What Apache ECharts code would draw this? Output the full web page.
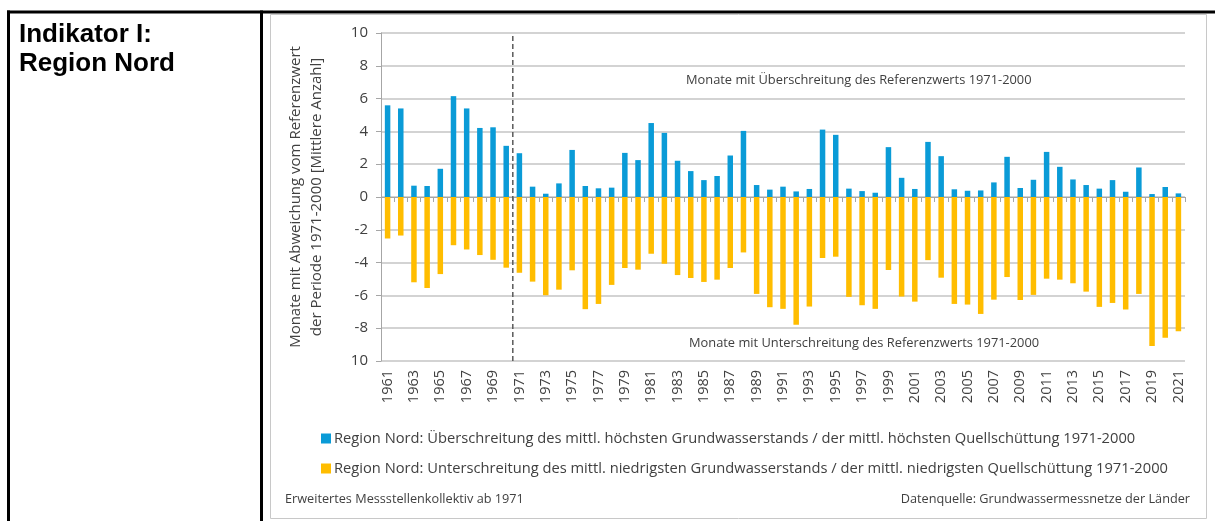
<!DOCTYPE html>
<html><head><meta charset="utf-8">
<script src="https://cdn.jsdelivr.net/npm/echarts@6/dist/echarts.min.js"></script>
<style>html,body{margin:0;padding:0;background:#fff}#c{width:1215px;height:521px}</style>
</head><body><div id="c"></div>
<script>
const years = [];
for (let y = 1961; y <= 2021; y++) years.push(String(y));
const exceed = [5.59,5.40,0.69,0.67,1.72,6.15,5.40,4.21,4.25,3.12,
2.67,0.63,0.20,0.83,2.87,0.67,0.53,0.57,2.69,2.25,
4.51,3.91,2.21,1.58,1.03,1.28,2.53,4.03,0.73,0.45,
0.63,0.34,0.49,4.11,3.79,0.51,0.36,0.26,3.04,1.17,
0.49,3.36,2.49,0.47,0.38,0.40,0.89,2.45,0.55,1.05,
2.75,1.84,1.07,0.73,0.51,1.03,0.32,1.80,0.18,0.61,0.22];
const under = [-2.53,-2.35,-5.20,-5.55,-4.70,-2.94,-3.20,-3.54,-3.83,-4.31,
-4.62,-5.16,-5.99,-5.65,-4.47,-6.84,-6.52,-5.36,-4.33,-4.43,
-3.46,-4.07,-4.76,-4.94,-5.18,-5.04,-4.33,-3.38,-5.91,-6.72,
-6.82,-7.79,-6.68,-3.72,-3.64,-6.09,-6.60,-6.82,-4.45,-6.07,
-6.38,-3.85,-4.92,-6.52,-6.56,-7.13,-6.26,-4.88,-6.28,-5.97,
-4.98,-5.04,-5.26,-5.77,-6.70,-6.46,-6.86,-5.91,-9.09,-8.58,-8.18];
const periodBoundary = [[10,-10],[10,10]];
const nameExceed = 'Region Nord: Überschreitung des mittl. höchsten Grundwasserstands / der mittl. höchsten Quellschüttung 1971-2000';
const nameUnder = 'Region Nord: Unterschreitung des mittl. niedrigsten Grundwasserstands / der mittl. niedrigsten Quellschüttung 1971-2000';

const F = '"Open Sans", "Noto Sans", sans-serif';
const TC = '#404040';
const chart = echarts.init(document.getElementById('c'), null, {renderer:'canvas'});
chart.setOption({
  animation:false,
  textStyle:{fontFamily:F},
  grid:{left:381,right:30,top:33,bottom:160,containLabel:false},
  legend:{
    data:[nameExceed,nameUnder],orient:'vertical',left:316,top:426,
    itemWidth:10,itemHeight:10,itemGap:15,icon:'rect',
    textStyle:{fontFamily:F,fontSize:14.7,color:TC,padding:[0,0,0,-2]}
  },
  xAxis:[
    {type:'category',data:years,position:'bottom',
     axisLine:{show:false},axisTick:{show:false},
     axisLabel:{rotate:90,interval:1,fontSize:14.5,color:TC,margin:9,fontFamily:F}},
    {type:'category',data:years,position:'bottom',
     axisLine:{show:true,onZero:true,onZeroAxisIndex:0,lineStyle:{color:'#a6a6a6',width:1}},
     axisTick:{show:true,length:5,interval:0,lineStyle:{color:'#a6a6a6'}},
     axisLabel:{show:false},splitLine:{show:false}},
    {type:'value',min:0,max:61,show:false}
  ],
  yAxis:{type:'value',min:-10,max:10,interval:2,
    name:'Monate mit Abweichung vom Referenzwert\nder Periode 1971-2000 [Mittlere Anzahl]',
    nameLocation:'middle',nameGap:54,nameRotate:90,
    nameTextStyle:{fontSize:15,color:TC,lineHeight:21,fontFamily:F},
    axisLine:{show:true,lineStyle:{color:'#a6a6a6'}},
    axisTick:{show:true,length:5,lineStyle:{color:'#a6a6a6'}},
    axisLabel:{fontSize:15,color:TC,margin:13,fontFamily:F,formatter:v=>v===-10?'10':String(v)},
    splitLine:{lineStyle:{color:'#c4c4c4',width:1.5}}
  },
  series:[
    {name:nameExceed,type:'bar',stack:'s',data:exceed,barWidth:5.5,itemStyle:{color:'#0a9bd7'}},
    {name:nameUnder,type:'bar',stack:'s',data:under,barWidth:5.5,itemStyle:{color:'#ffbd00'}},
    {name:'Grenze',type:'line',xAxisIndex:2,data:periodBoundary,symbol:'none',silent:true,
     lineStyle:{color:'#595959',width:1.5,type:[5,3]}}
  ],
  graphic:[
    {type:'rect',shape:{x:7,y:10.5,width:1210,height:3},style:{fill:'#000'},silent:true},
    {type:'rect',shape:{x:7,y:10.5,width:3,height:520},style:{fill:'#000'},silent:true},
    {type:'rect',shape:{x:260,y:10.5,width:3,height:520},style:{fill:'#000'},silent:true},
    {type:'rect',shape:{x:270.5,y:14.5,width:936,height:504},style:{fill:'none',stroke:'#c8c8c8',lineWidth:1},silent:true},
    {type:'text',left:19,top:20,style:{text:'Indikator I:\nRegion Nord',font:'bold 26px "Liberation Sans", Arial, sans-serif',fill:'#000',lineHeight:29}},
    {type:'text',left:686,top:74,style:{text:'Monate mit Überschreitung des Referenzwerts 1971-2000',font:'12.85px '+F,fill:TC}},
    {type:'text',left:689,top:337,style:{text:'Monate mit Unterschreitung des Referenzwerts 1971-2000',font:'12.85px '+F,fill:TC}},
    {type:'text',left:285,top:493,style:{text:'Erweitertes Messstellenkollektiv ab 1971',font:'12.7px '+F,fill:TC}},
    {type:'text',right:25,top:493,style:{text:'Datenquelle: Grundwassermessnetze der Länder',font:'12.7px '+F,fill:TC}}
  ]
});
</script></body></html>
